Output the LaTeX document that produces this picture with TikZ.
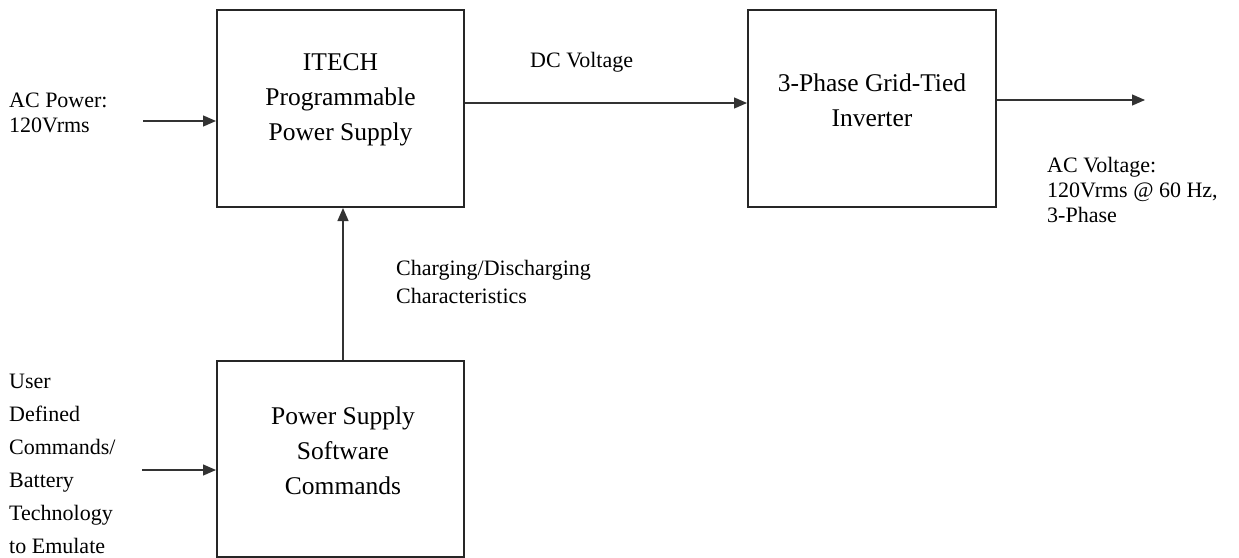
\documentclass[tikz,border=0pt]{standalone}
\usepackage{fontspec}
\setmainfont{Liberation Serif}
\usetikzlibrary{arrows.meta}
\begin{document}
\begin{tikzpicture}[x=1pt,y=-1pt,
  blockbox/.style={draw=black!85,line width=2pt,rectangle,inner sep=0pt},
  boxtext/.style={align=center,font=\fontsize{25.5}{35}\selectfont,inner sep=0pt},
  sidetext/.style={align=left,font=\fontsize{22}{25}\selectfont,inner sep=0pt,anchor=west},
  arr/.style={draw=black!80,line width=1.3pt,-{Triangle[length=13pt,width=11pt]}}]
\useasboundingbox (0,0) rectangle (1239,557);
% boxes
\node[blockbox,minimum width=247pt,minimum height=197pt] (b1) at (340.5,108.5) {};
\node[blockbox,minimum width=248pt,minimum height=197pt] (b2) at (872,108.5) {};
\node[blockbox,minimum width=247pt,minimum height=196pt] (b3) at (340.5,459) {};
% box texts
\node[boxtext] (t1) at (340.5,100) {ITECH\\Programmable\\Power Supply};
\node[boxtext] (t2) at (872,100) {3-Phase Grid-Tied\\Inverter};
\node[boxtext] (t3) at (343,451) {Power Supply\\Software\\Commands};
% side texts
\node[sidetext] (lac) at (9,112.5) {AC Power:\\120Vrms};
\node[sidetext] (ldc) at (530,62) {DC Voltage};
\node[sidetext] (lout) at (1047,190) {AC Voltage:\\120Vrms @ 60 Hz,\\3-Phase};
\node[sidetext,font=\fontsize{22}{28}\selectfont] (lch) at (396,282) {Charging/Discharging\\Characteristics};
\node[sidetext,font=\fontsize{22}{33}\selectfont] (luser) at (9,464) {User\\Defined\\Commands/\\Battery\\Technology\\to Emulate};
% free ends
\coordinate (acin) at (143,121);
\coordinate (dcy) at (0,103);
\coordinate (outend) at (1145,100);
\coordinate (userin) at (142,470);
\coordinate (vx) at (343,0);
% connectors
\draw[arr] (acin) -- (acin -| b1.west);
\draw[arr] (b1.east |- dcy) -- (b2.west |- dcy);
\draw[arr] (b2.east |- outend) -- (outend);
\draw[arr] (userin) -- (userin -| b3.west);
\draw[arr] (vx |- b3.north) -- (vx |- b1.south);
\end{tikzpicture}
\end{document}
